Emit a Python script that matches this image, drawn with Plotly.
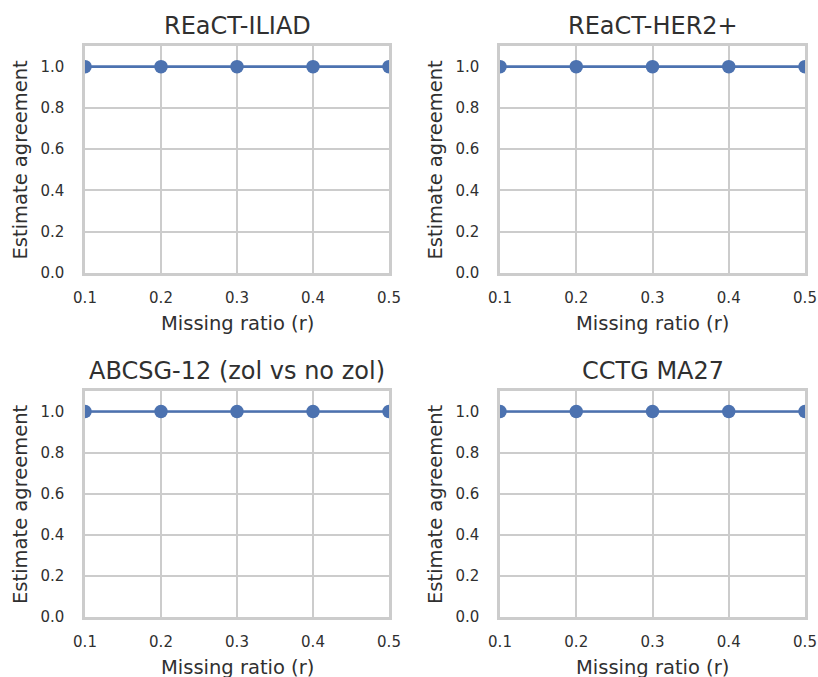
import plotly.graph_objects as go
from plotly.subplots import make_subplots

trials = ["REaCT-ILIAD", "REaCT-HER2+", "ABCSG-12 (zol vs no zol)", "CCTG MA27"]
missing_ratio = [0.1, 0.2, 0.3, 0.4, 0.5]
agreement_iliad = [1.0, 1.0, 1.0, 1.0, 1.0]
agreement_her2 = [1.0, 1.0, 1.0, 1.0, 1.0]
agreement_abcsg = [1.0, 1.0, 1.0, 1.0, 1.0]
agreement_ma27 = [1.0, 1.0, 1.0, 1.0, 1.0]
y_ticks = [0.0, 0.2, 0.4, 0.6, 0.8, 1.0]
x_ticks = [0.1, 0.2, 0.3, 0.4, 0.5]

series = [agreement_iliad, agreement_her2, agreement_abcsg, agreement_ma27]

W, H = 818, 677
FONT = "DejaVu Sans"
TXT = "#303030"
GRID = "#cccccc"
BLUE = "#4c72b0"

fig = make_subplots(rows=2, cols=2)

# domains in paper coords (pixel bounds of each plot area)
xdoms = [(85 / W, 389 / W), (500 / W, 805 / W)]
ydoms = [(1 - 273 / H, 1 - 46 / H), (1 - 617 / H, 1 - 391 / H)]

annotations = []
for i, (name, vals) in enumerate(zip(trials, series)):
    r, c = divmod(i, 2)
    fig.add_trace(
        go.Scatter(
            x=missing_ratio, y=vals, mode="lines+markers",
            line=dict(color=BLUE, width=2.6),
            marker=dict(color=BLUE, size=13.5),
            showlegend=False,
        ),
        row=r + 1, col=c + 1,
    )
    sfx = "" if i == 0 else str(i + 1)
    fig.update_layout(**{
        f"xaxis{sfx}": dict(
            domain=list(xdoms[c]), range=[0.1, 0.5], tickvals=x_ticks,
            ticktext=[f"{v:.1f}" for v in x_ticks],
            showgrid=True, gridcolor=GRID, gridwidth=1.5,
            showline=True, linecolor=GRID, linewidth=2.5, mirror=True,
            zeroline=False, ticks="", ticklabelstandoff=9,
            tickfont=dict(family=FONT, size=15, color=TXT),
            automargin=False,
        ),
        f"yaxis{sfx}": dict(
            domain=list(ydoms[r]), range=[0, 1.1], tickvals=y_ticks,
            ticktext=[f"{v:.1f}" for v in y_ticks],
            showgrid=True, gridcolor=GRID, gridwidth=1.5,
            showline=True, linecolor=GRID, linewidth=2.5, mirror=True,
            zeroline=False, ticks="", ticklabelstandoff=15,
            tickfont=dict(family=FONT, size=15, color=TXT),
            automargin=False,
        ),
    })
    xr = f"x{sfx} domain"
    yr = f"y{sfx} domain"
    annotations.append(dict(
        text=name, xref=xr, yref=yr, x=0.5, y=1, yshift=20,
        xanchor="center", yanchor="middle", showarrow=False,
        font=dict(family=FONT, size=24, color=TXT),
    ))
    annotations.append(dict(
        text="Missing ratio (r)", xref=xr, yref=yr, x=0.5, y=0, yshift=-50,
        xanchor="center", yanchor="middle", showarrow=False,
        font=dict(family=FONT, size=19.5, color=TXT),
    ))
    annotations.append(dict(
        text="Estimate agreement", xref=xr, yref=yr, x=0, y=0.5, xshift=-65,
        xanchor="center", yanchor="middle", textangle=-90, showarrow=False,
        font=dict(family=FONT, size=19.5, color=TXT),
    ))

fig.update_layout(
    width=W, height=H,
    margin=dict(l=0, r=0, t=0, b=0),
    paper_bgcolor="white", plot_bgcolor="white",
    annotations=annotations,
    font=dict(family=FONT, color=TXT),
)

fig.write_html("out.html")
